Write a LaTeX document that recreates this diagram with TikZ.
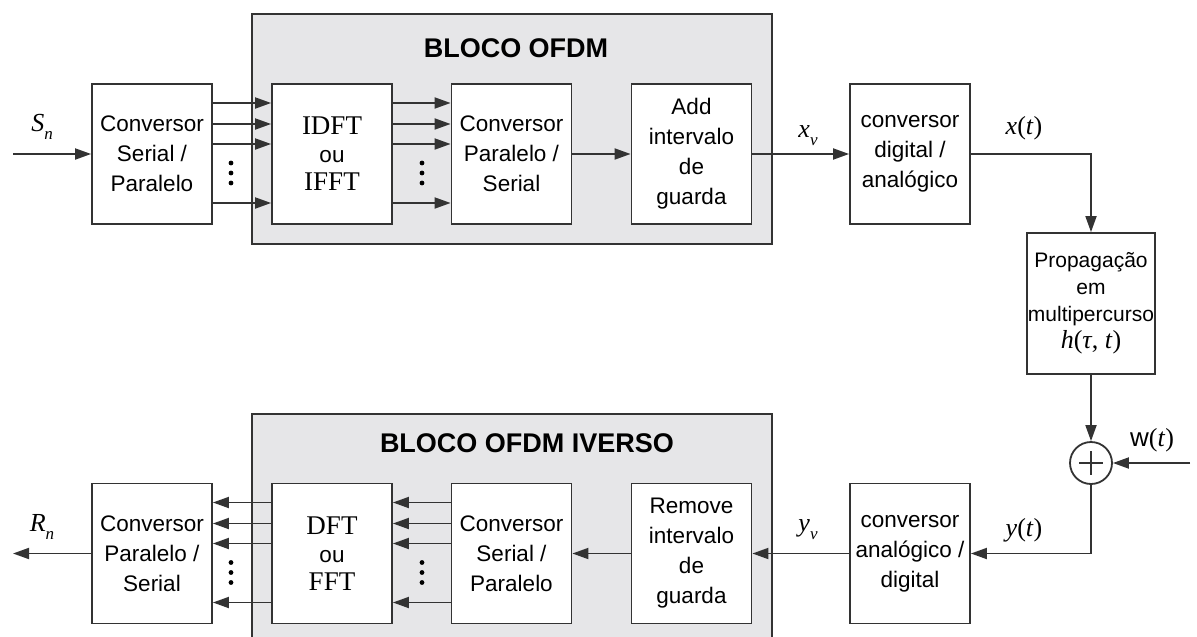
\documentclass[tikz,border=0pt]{standalone}
\usepackage{fontspec}
\setmainfont{Liberation Serif}
\setsansfont{Liberation Sans}
\usetikzlibrary{arrows.meta,calc}
\definecolor{linegray}{HTML}{333333}
\definecolor{panelgray}{HTML}{E6E6E8}
% italic symbol with a lowered italic index
\newcommand{\isub}[2]{\textit{#1}\raisebox{-0.3em}{\fontsize{17}{17}\selectfont\textit{#2}}}
\tikzset{
  blk/.style={draw=linegray, line width=1.8pt, fill=white, minimum width=120pt,
    minimum height=140pt, inner sep=0pt, align=center,
    font=\sffamily\fontsize{22.5}{30}\selectfont},
  fftblk/.style={blk, font=\rmfamily\fontsize{27}{28}\selectfont},
  panel/.style={draw=linegray, line width=1.8pt, fill=panelgray},
  paneltitle/.style={font=\sffamily\bfseries\fontsize{27}{30}\selectfont},
  sig/.style={draw=linegray, line width=1.8pt, -{Triangle[length=16pt,width=11pt]}},
  lbl/.style={font=\rmfamily\fontsize{26}{28}\selectfont, inner sep=0pt}
}
\begin{document}
\begin{tikzpicture}[x=1pt,y=-1pt]
\useasboundingbox (0,0) rectangle (1197,637);
\fill[white] (0,0) rectangle (1197,637);

% grey panels of the OFDM blocks
\begin{scope}
  \clip (0,0) rectangle (1197,637);
  \draw[panel] (252,14) rectangle (772,244);
  \draw[panel] (252,414) rectangle (772,670);
\end{scope}
\node[paneltitle] (t1) at (516,48) {BLOCO OFDM};
\node[paneltitle] (t2) at (527,443) {BLOCO OFDM IVERSO};

% transmitter chain
\node[blk] (sp) at (152,154) {Conversor\\Serial /\\Paralelo};
\node[fftblk] (idft) at (332,154) {IDFT\\{\sffamily\fontsize{22.5}{28}\selectfont ou}\\IFFT};
\node[blk] (ps) at (511.5,154) {Conversor\\Paralelo /\\Serial};
\node[blk] (gi) at (691.5,154) {Add\\intervalo\\de\\guarda};
\node[blk] (da) at (910,154) {conversor\\digital /\\analógico};

% channel
\node[blk, minimum width=128pt, minimum height=141pt,
      font=\sffamily\fontsize{21}{27}\selectfont] (ch) at (1091,303.5)
  {Propagação\\em\\multipercurso\\{\rmfamily\fontsize{26}{28}\selectfont\textit{h}(\textit{τ}, \textit{t})}};
\node[circle, draw=linegray, line width=1.8pt, minimum size=42pt, inner sep=0pt, fill=white] (sum) at (1091,463) {};
\draw[linegray, line width=1.3pt] ($(sum.center)+(-12,0)$) -- ($(sum.center)+(12,0)$)
  ($(sum.center)+(0,-12)$) -- ($(sum.center)+(0,12)$);

% receiver chain
\node[blk] (ad) at (910,553.5) {conversor\\analógico /\\digital};
\node[blk] (ri) at (691.5,553.5) {Remove\\intervalo\\de\\guarda};
\node[blk] (sp2) at (511.5,553.5) {Conversor\\Serial /\\Paralelo};
\node[fftblk] (dft) at (332,553.5) {DFT\\{\sffamily\fontsize{22.5}{28}\selectfont ou}\\FFT};
\node[blk] (ps2) at (152,553.5) {Conversor\\Paralelo /\\Serial};

% parallel branches
\foreach \dy in {-51,-30,-10,49} {
  \draw[sig] ($(sp.east)+(0,\dy)$) -- ($(idft.west)+(0,\dy)$);
  \draw[sig] ($(idft.east)+(0,\dy)$) -- ($(ps.west)+(0,\dy)$);
  \draw[sig] ($(sp2.west)+(0,\dy)$) -- ($(dft.east)+(0,\dy)$);
  \draw[sig] ($(dft.west)+(0,\dy)$) -- ($(ps2.east)+(0,\dy)$);
}
\foreach \x in {231,422} {
  \foreach \dy in {9,19,29} {
    \fill[black] ($(\x,154)+(0,\dy)$) circle (2.4pt);
    \fill[black] ($(\x,553.5)+(0,\dy)$) circle (2.4pt);
  }
}

% serial signal path
\coordinate (sin) at (13,154);
\coordinate (rout) at (13,553.5);
\coordinate (win) at (1190,463);
\draw[sig] (sin) -- (sp.west);
\draw[sig] (ps.east) -- (gi.west);
\draw[sig] (gi.east) -- (da.west);
\draw[sig] (da.east) -| (ch.north);
\draw[sig] (ch.south) -- (sum.north);
\draw[sig] (win) -- (sum.east);
\draw[sig] (sum.south) |- (ad.east);
\draw[sig] (ad.west) -- (ri.east);
\draw[sig] (ri.west) -- (sp2.east);
\draw[sig] (ps2.west) -- (rout);

% signal labels
\node[lbl] (lsn) at (42,127) {\isub{S}{n}};
\node[lbl] (lxv) at (808,136) {\isub{x}{v}};
\node[lbl] (lxt) at (1024,128) {\textit{x}(\textit{t})};
\node[lbl] (lwt) at (1152,440) {{\sffamily w}(\textit{t})};
\node[lbl] (lyt) at (1024,530) {\textit{y}(\textit{t})};
\node[lbl] (lyv) at (808,530) {\isub{y}{v}};
\node[lbl] (lrn) at (42,527) {\isub{R}{n}};
\end{tikzpicture}
\end{document}
